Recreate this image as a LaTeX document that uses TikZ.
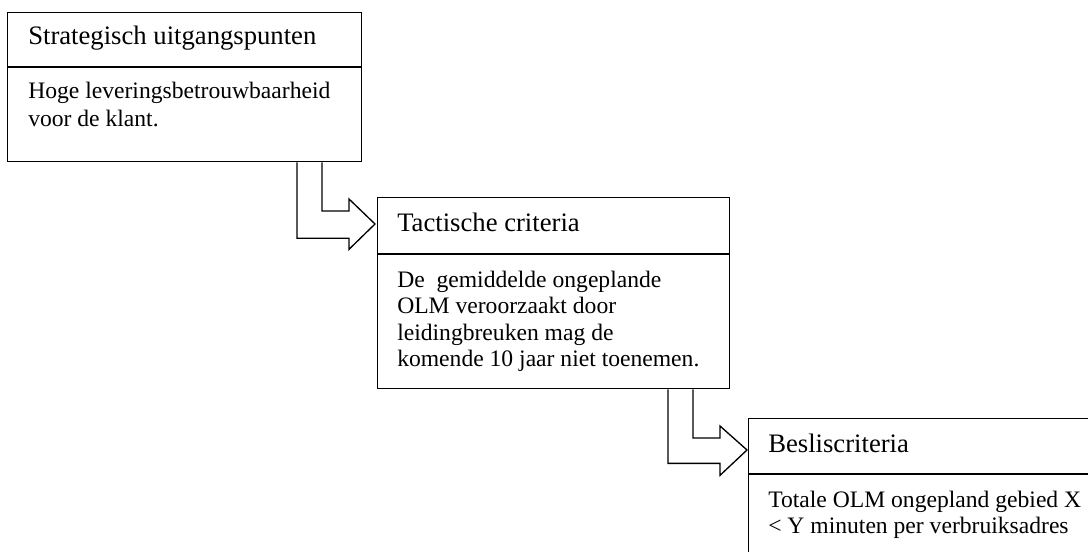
\documentclass[tikz,border=0pt]{standalone}
\usepackage{fontspec}
\setmainfont{Liberation Serif}
\usetikzlibrary{calc}
\begin{document}
\begin{tikzpicture}[x=0.75pt,y=-0.75pt,
  box/.style={draw, line width=1pt, rectangle, anchor=north west, inner sep=0pt},
  divider/.style={line width=1.2pt},
  ttl/.style={anchor=base west, inner sep=0pt, font=\fontsize{20}{24}\selectfont},
  txt/.style={anchor=base west, inner sep=0pt, font=\fontsize{17.7}{21}\selectfont},
  blockarrow/.style={draw, line width=1pt, line join=miter}]
\useasboundingbox (0,0) rectangle (1088,552);
\clip (0,0) rectangle (1088,552);
% boxes
\node[box, minimum width=265.5pt, minimum height=111.75pt] (b1) at (7,12) {};
\node[box, minimum width=264pt, minimum height=143.25pt] (b2) at (377,197) {};
\node[box, minimum width=264pt, minimum height=120pt] (b3) at (748,418) {};
% dividers
\draw[divider] (b1.west |- 0,67) -- (b1.east |- 0,67);
\draw[divider] (b2.west |- 0,254) -- (b2.east |- 0,254);
\draw[divider] (b3.west |- 0,474) -- (b3.east |- 0,474);
% texts
\node[ttl] (t1) at (28,45) {Strategisch uitgangspunten};
\node[txt] (t1a) at (28,99) {Hoge leveringsbetrouwbaarheid};
\node[txt] (t1b) at (28,127) {voor de klant.};
\node[ttl] (t2) at (397,232) {Tactische criteria};
\node[txt] (t2a) at (397,287) {De\ \ gemiddelde ongeplande};
\node[txt] (t2b) at (397,313.5) {OLM veroorzaakt door};
\node[txt] (t2c) at (397,340) {leidingbreuken mag de};
\node[txt] (t2d) at (397,366.5) {komende 10 jaar niet toenemen.};
\node[ttl] (t3) at (768,452) {Besliscriteria};
\node[txt] (t3a) at (768,507) {Totale OLM ongepland gebied X};
\node[txt] (t3b) at (768,533) {< Y minuten per verbruiksadres};
% block arrows
\draw[blockarrow] ($(b1.south west)+(290,0)$) -- ++(0,76) -- ++(52,0) -- ++(0,11)
  -- ($(b2.north west)+(-2,27)$) -- ++(-26,-25) -- ++(0,12) -- ++(-27,0) coordinate (a1i)
  -- (a1i |- b1.south);
\draw[blockarrow] ($(b2.south west)+(291,0)$) -- ++(0,74) -- ++(52,0) -- ++(0,12)
  -- ($(b3.north west)+(-1,32)$) -- ++(-27,-24) -- ++(0,12) -- ++(-27,0) coordinate (a2i)
  -- (a2i |- b2.south);
\end{tikzpicture}
\end{document}
